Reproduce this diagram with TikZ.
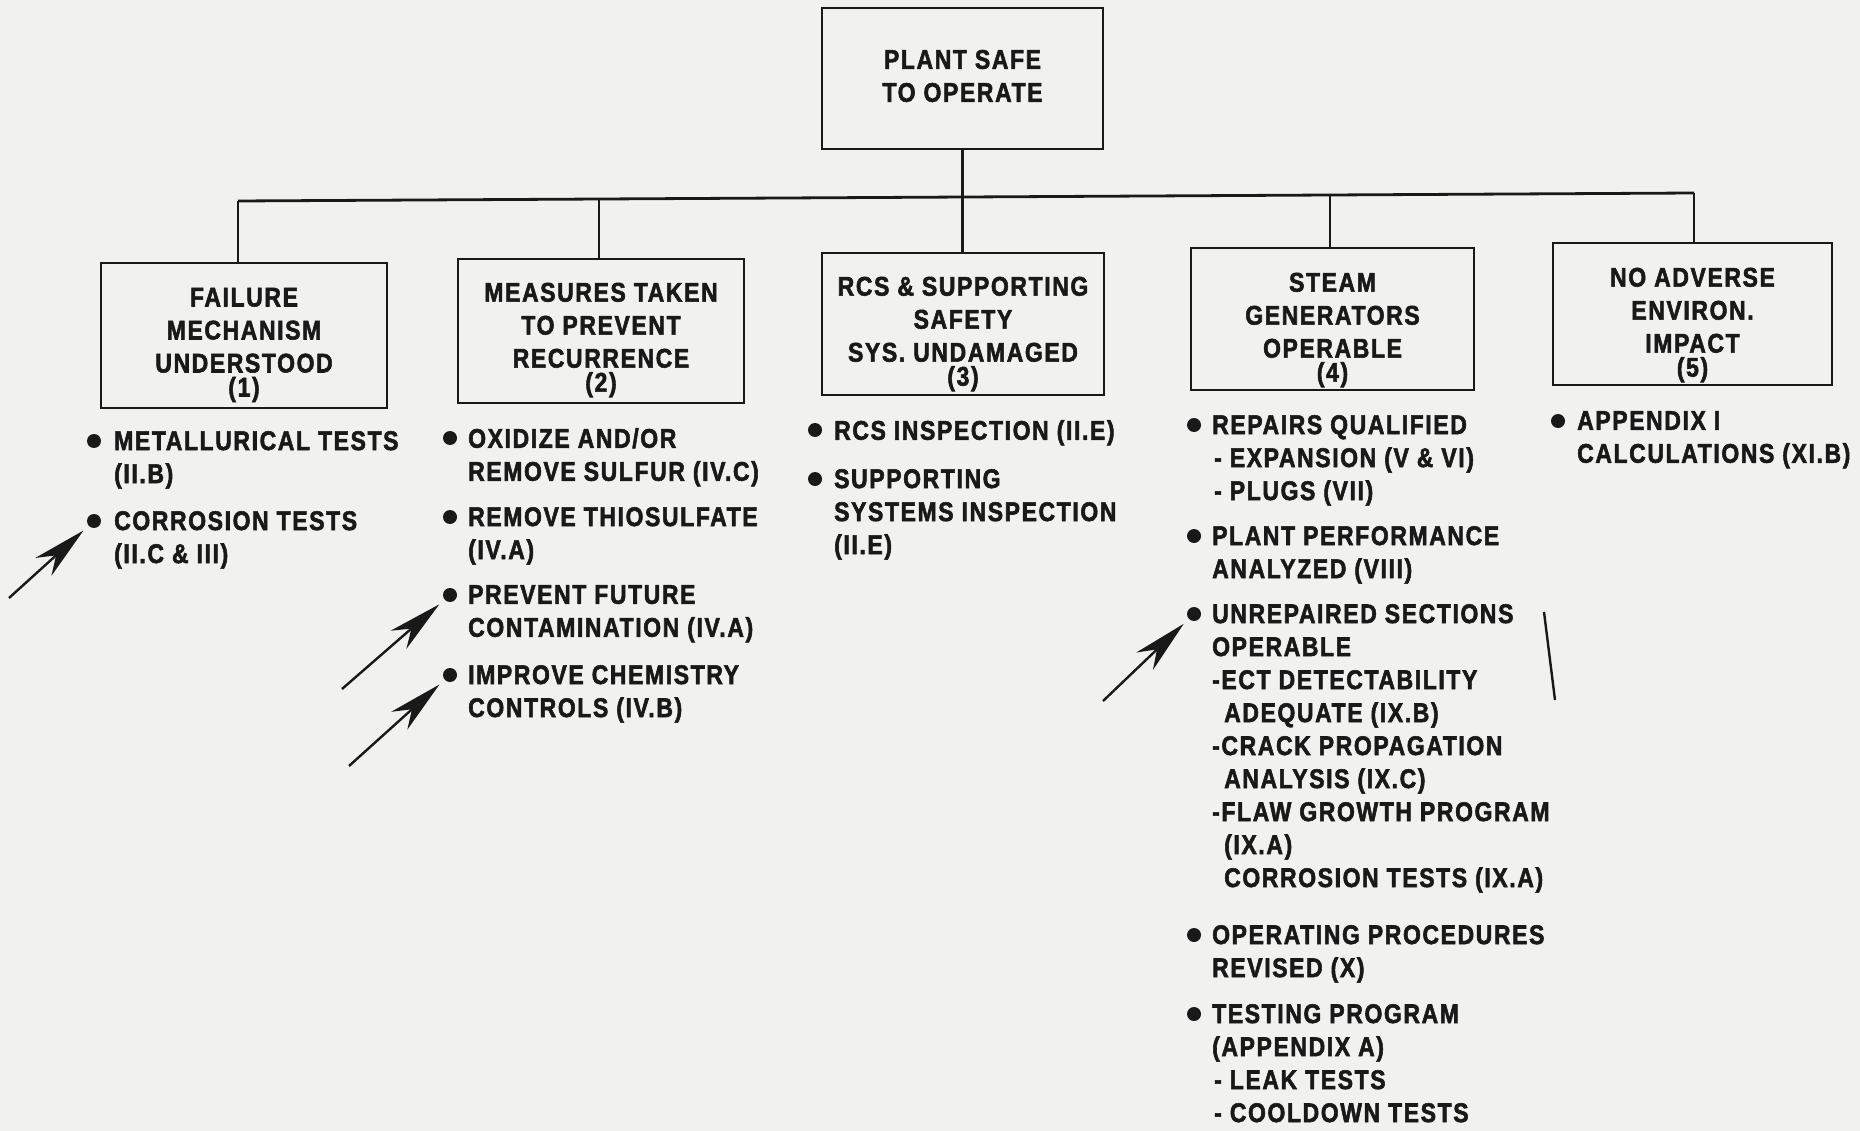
\documentclass[tikz,border=0pt]{standalone}
\usepackage{fontspec}
\setmainfont{Liberation Sans}[UprightFont={* Bold}, FakeStretch=0.85, FakeBold=2, LetterSpace=6]
\usetikzlibrary{arrows.meta}
\definecolor{paper}{RGB}{241,241,239}
\definecolor{ink}{RGB}{25,25,25}
\begin{document}
\begin{tikzpicture}[x=1pt,y=-1pt,
  every node/.style={text=ink, font=\fontsize{27}{33}\selectfont},
  box/.style={draw=ink, line width=2.8pt, inner sep=0pt},
  lab/.style={align=center, inner sep=0pt},
  item/.style={align=left, anchor=north west, inner sep=0pt},
  bul/.style={circle, fill=ink, draw=none, minimum size=14pt, inner sep=0pt},
  link/.style={draw=ink, line width=2.8pt},
  pointer/.style={draw=ink, line width=2.4pt, -{Stealth[length=54pt,width=24pt,inset=17pt]}, shorten >=7pt},
  bar/.style={draw=ink, line width=2.4pt}
]
\fill[paper] (0,0) rectangle (1860,1131);
\useasboundingbox (0,0) rectangle (1860,1131);

% boxes
\node[box, minimum width=281pt, minimum height=141pt] (top) at (962.5,78.5) {};
\node[box, minimum width=286pt, minimum height=145pt] (b1) at (244,335.5) {};
\node[box, minimum width=286pt, minimum height=144pt] (b2) at (601,331) {};
\node[box, minimum width=282pt, minimum height=142pt] (b3) at (963,324) {};
\node[box, minimum width=283pt, minimum height=142pt] (b4) at (1332.5,319) {};
\node[box, minimum width=279pt, minimum height=142pt] (b5) at (1692.5,314) {};

% box texts
\node[lab] (t0) at (962.5,76) {PLANT SAFE\\TO OPERATE};
\node[lab] (t1) at (244,345) {FAILURE\\MECHANISM\\UNDERSTOOD\\[-9pt](1)};
\node[lab] (t2) at (601,340) {MEASURES TAKEN\\TO PREVENT\\RECURRENCE\\[-9pt](2)};
\node[lab] (t3) at (963,334) {RCS \& SUPPORTING\\SAFETY\\SYS. UNDAMAGED\\[-9pt](3)};
\node[lab] (t4) at (1332.5,330) {STEAM\\GENERATORS\\OPERABLE\\[-9pt](4)};
\node[lab] (t5) at (1692.5,325) {NO ADVERSE\\ENVIRON.\\IMPACT\\[-9pt](5)};

% connectors
\coordinate (j1) at (238,201);
\coordinate (j2) at (599,199);
\coordinate (j3) at (964,197);
\coordinate (j4) at (1330,195);
\coordinate (j5) at (1694,193);
\draw[link] (j1) -- (j5);
\draw[link] (top.south) -- (top.south |- b3.north);
\draw[link] (j1) -- (j1 |- b1.north);
\draw[link] (j2) -- (j2 |- b2.north);
\draw[link] (j4) -- (j4 |- b4.north);
\draw[link] (j5) -- (j5 |- b5.north);

% column 1
\node[bul] (d11) at (94,441) {};
\node[item] (i11) at (114,431) {METALLURICAL TESTS\\(II.B)};
\node[bul] (d12) at (94,521) {};
\node[item] (i12) at (114,511) {CORROSION TESTS\\(II.C \& III)};

% column 2
\node[bul] (d21) at (450,438) {};
\node[item] (i21) at (468,428) {OXIDIZE AND/OR\\REMOVE SULFUR (IV.C)};
\node[bul] (d22) at (450,517) {};
\node[item] (i22) at (468,507) {REMOVE THIOSULFATE\\(IV.A)};
\node[bul] (d23) at (450,595) {};
\node[item] (i23) at (468,585) {PREVENT FUTURE\\CONTAMINATION (IV.A)};
\node[bul] (d24) at (450,675) {};
\node[item] (i24) at (468,665) {IMPROVE CHEMISTRY\\CONTROLS (IV.B)};

% column 3
\node[bul] (d31) at (815,430) {};
\node[item] (i31) at (834,420) {RCS INSPECTION (II.E)};
\node[bul] (d32) at (815,479) {};
\node[item] (i32) at (834,469) {SUPPORTING\\SYSTEMS INSPECTION\\(II.E)};

% column 4
\node[bul] (d41) at (1194,425) {};
\node[item] (i41) at (1212,415) {REPAIRS QUALIFIED\\\hspace*{2pt}- EXPANSION (V \& VI)\\\hspace*{2pt}- PLUGS (VII)};
\node[bul] (d42) at (1194,536) {};
\node[item] (i42) at (1212,526) {PLANT PERFORMANCE\\ANALYZED (VIII)};
\node[bul] (d43) at (1194,614) {};
\node[item] (i43) at (1212,604) {UNREPAIRED SECTIONS\\OPERABLE\\-ECT DETECTABILITY\\\hspace*{12pt}ADEQUATE (IX.B)\\-CRACK PROPAGATION\\\hspace*{12pt}ANALYSIS (IX.C)\\-FLAW GROWTH PROGRAM\\\hspace*{12pt}(IX.A)\\\hspace*{12pt}CORROSION TESTS (IX.A)};
\node[bul] (d44) at (1194,935) {};
\node[item] (i44) at (1212,925) {OPERATING PROCEDURES\\REVISED (X)};
\node[bul] (d45) at (1194,1014) {};
\node[item] (i45) at (1212,1004) {TESTING PROGRAM\\(APPENDIX A)\\\hspace*{2pt}- LEAK TESTS\\\hspace*{2pt}- COOLDOWN TESTS};

% column 5
\node[bul] (d51) at (1558,421) {};
\node[item] (i51) at (1577,411) {APPENDIX I\\CALCULATIONS (XI.B)};

% hand-drawn pointers
\coordinate (a1) at (9,598);
\coordinate (a2) at (342,689);
\coordinate (a3) at (349,766);
\coordinate (a4) at (1103,701);
\draw[pointer] (a1) -- (d12);
\draw[pointer] (a2) -- (d23);
\draw[pointer] (a3) -- (d24);
\draw[pointer] (a4) -- (d43);

% change bar
\coordinate (cb1) at (1544,612);
\coordinate (cb2) at (1555,700);
\draw[bar] (cb1) -- (cb2);
\end{tikzpicture}
\end{document}
